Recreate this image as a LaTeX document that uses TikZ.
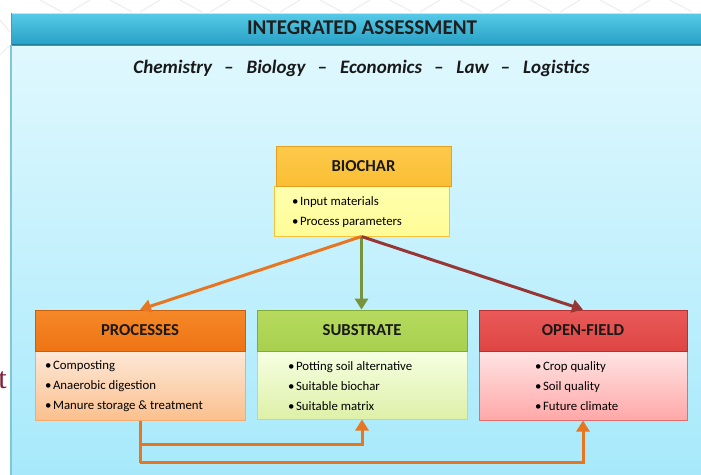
\documentclass[tikz,border=0pt]{standalone}
\usepackage{fontspec}
\setmainfont{Carlito}
\newfontfamily\serifx{Liberation Serif}
\usetikzlibrary{arrows.meta}
\definecolor{panelTop}{RGB}{224,248,254}
\definecolor{panelBot}{RGB}{166,233,251}
\definecolor{panelEdge}{RGB}{126,200,216}
\definecolor{bandTop}{RGB}{86,202,232}
\definecolor{bandBot}{RGB}{40,160,196}
\definecolor{bandEdge}{RGB}{30,125,150}
\definecolor{bioH}{RGB}{251,190,50}
\definecolor{bioHtop}{RGB}{252,202,75}
\definecolor{bioHedge}{RGB}{228,160,30}
\definecolor{bioBtop}{RGB}{255,255,175}
\definecolor{bioBbot}{RGB}{255,252,150}
\definecolor{bioBedge}{RGB}{245,195,60}
\definecolor{proH}{RGB}{238,116,20}
\definecolor{proHtop}{RGB}{245,136,40}
\definecolor{proHedge}{RGB}{200,95,15}
\definecolor{proBtop}{RGB}{253,232,215}
\definecolor{proBbot}{RGB}{251,192,142}
\definecolor{proBedge}{RGB}{246,170,110}
\definecolor{subH}{RGB}{168,208,78}
\definecolor{subHtop}{RGB}{182,218,95}
\definecolor{subHedge}{RGB}{130,170,55}
\definecolor{subBtop}{RGB}{246,255,226}
\definecolor{subBbot}{RGB}{222,240,168}
\definecolor{subBedge}{RGB}{195,220,130}
\definecolor{opnH}{RGB}{222,70,68}
\definecolor{opnHtop}{RGB}{232,90,88}
\definecolor{opnHedge}{RGB}{180,50,50}
\definecolor{opnBtop}{RGB}{255,228,228}
\definecolor{opnBbot}{RGB}{255,168,168}
\definecolor{opnBedge}{RGB}{225,110,110}
\definecolor{arrOrange}{RGB}{232,118,32}
\definecolor{arrGreen}{RGB}{119,147,60}
\definecolor{arrRed}{RGB}{150,55,53}
\definecolor{fragRed}{RGB}{125,35,60}
\tikzset{
  hdrbox/.style={rectangle, line width=0.8pt, minimum height=40pt, inner sep=0pt,
    font=\fontsize{16.7}{18}\selectfont\bfseries, text=black!90},
  bodybox/.style={rectangle, line width=1pt, inner sep=0pt},
  items/.style={anchor=west, align=left, inner sep=0pt,
    font=\fontsize{12.8}{20}\selectfont, text=black},
  conn/.style={line width=3pt, -{Triangle[width=13pt,length=11pt]}},
  plainconn/.style={line width=3pt}
}
\newcommand{\bul}{\textbullet\hspace{1.5pt}}
\newcommand{\dsh}{\hspace{12pt}–\hspace{13pt}}
\begin{document}
\begin{tikzpicture}[x=1pt,y=-1pt]
\useasboundingbox (0,0) rectangle (701,474);
\fill[white] (0,0) rectangle (701,474);
% faint background strokes
\foreach \sx in {40,110,180,250,320,390,460,530,600,670} {
  \draw[black!7, line width=1pt] (\sx,0) -- ++(22,12);
  \draw[black!7, line width=1pt] (\sx+30,12) -- ++(20,-12);
}
\draw[black!7, line width=1pt] (0,20) -- (10,32);
\draw[black!7, line width=1pt] (0,55) -- (10,45);
% fragment letter at left edge
\node[anchor=base east, inner sep=0pt, text=fragRed, font=\serifx\fontsize{30}{30}\selectfont] (frag) at (7,388) {t};
% panel
\shade[top color=panelTop, bottom color=panelBot] (11,45) rectangle (712,480);
\shade[top color=bandTop, bottom color=bandBot] (11,13) rectangle (712,45);
\draw[bandEdge, line width=1.2pt] (11,44.4) -- (712,44.4);
\draw[white!60!bandTop, line width=1pt] (11,13.5) -- (712,13.5);
\draw[panelEdge, line width=2pt] (11,45) -- (11,480);
\draw[bandEdge!80, line width=1pt] (11.5,13) -- (11.5,45);
\node[font=\fontsize{21}{22}\selectfont\bfseries, text=black!88, inner sep=0pt] (title) at (362,28) {INTEGRATED ASSESSMENT};
\node[font=\fontsize{19}{20}\selectfont\bfseries\itshape, text=black!90, inner sep=0pt] (subtitle) at (361.5,68)
  {Chemistry\dsh Biology\dsh Economics\dsh Law\dsh Logistics};
% BIOCHAR
\node[bodybox, draw=bioBedge, top color=bioBtop, bottom color=bioBbot, minimum width=175pt, minimum height=50pt] (bioB) at (361.5,211) {};
\node[hdrbox, draw=bioHedge, top color=bioHtop, bottom color=bioH, minimum width=175pt] (bioHd) at (363.5,166) {BIOCHAR};
\node[items] (bioT) at (292,212) {\bul Input materials\\ \bul Process parameters};
% PROCESSES
\node[bodybox, draw=proBedge, top color=proBtop, bottom color=proBbot, minimum width=210pt, minimum height=69pt] (proB) at (140,385.5) {};
\node[hdrbox, draw=proHedge, top color=proHtop, bottom color=proH, minimum width=210pt, minimum height=41pt] (proH) at (140,330.5) {PROCESSES};
\node[items] (proT) at (45,386) {\bul Composting\\ \bul Anaerobic digestion\\ \bul Manure storage \& treatment};
% SUBSTRATE
\node[bodybox, draw=subBedge, top color=subBtop, bottom color=subBbot, minimum width=210pt, minimum height=68pt] (subB) at (362,385) {};
\node[hdrbox, draw=subHedge, top color=subHtop, bottom color=subH, minimum width=210pt, minimum height=41pt] (subHd) at (362,330.5) {SUBSTRATE};
\node[items] (subT) at (288,386) {\bul Potting soil alternative\\ \bul Suitable biochar\\ \bul Suitable matrix};
% OPEN-FIELD
\node[bodybox, draw=opnBedge, top color=opnBtop, bottom color=opnBbot, minimum width=208pt, minimum height=69pt] (opnB) at (583,385.5) {};
\node[hdrbox, draw=opnHedge, top color=opnHtop, bottom color=opnH, minimum width=208pt, minimum height=41pt] (opnHd) at (583,330.5) {OPEN-FIELD};
\node[items] (opnT) at (535,386) {\bul Crop quality\\ \bul Soil quality\\ \bul Future climate};
% arrows from BIOCHAR
\draw[conn, arrOrange] (bioB.south) -- (proH.north);
\draw[conn, arrGreen] (bioB.south) -- (bioB.south |- subHd.north);
\draw[conn, arrRed] (bioB.south) -- (opnHd.north);
% bottom connectors
\path (proB.south) ++(0,24) coordinate (j1);
\path (proB.south) ++(0,42) coordinate (j2);
\draw[plainconn, arrOrange] (proB.south) -- (j2);
\draw[conn, arrOrange] (j1) -| (subB.south);
\draw[conn, arrOrange] (j2) -| (opnB.south);
\end{tikzpicture}
\end{document}
